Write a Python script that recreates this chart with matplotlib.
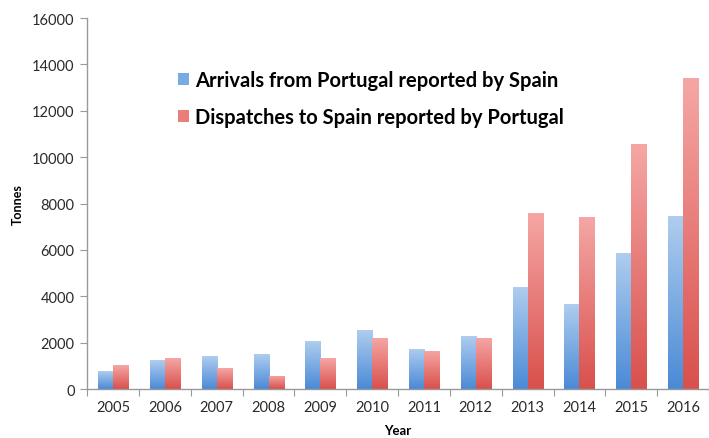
import matplotlib
matplotlib.use("Agg")
import matplotlib.pyplot as plt
import numpy as np
from matplotlib.colors import LinearSegmentedColormap

years = ["2005", "2006", "2007", "2008", "2009", "2010", "2011", "2012", "2013", "2014", "2015", "2016"]
arrivals = [760, 1250, 1410, 1495, 2055, 2530, 1740, 2285, 4385, 3650, 5850, 7460]
dispatches = [1035, 1320, 905, 575, 1335, 2200, 1640, 2200, 7605, 7400, 10570, 13410]
yticks = [0, 2000, 4000, 6000, 8000, 10000, 12000, 14000, 16000]

plt.rcParams['font.family'] = ['Lato', 'DejaVu Sans']

fig = plt.figure(figsize=(7.09, 4.39), dpi=100)
ax = fig.add_axes([0.123, 0.1116, 0.877, 0.845])

x = np.arange(len(years))
w = 0.29
blue_cmap = LinearSegmentedColormap.from_list("b", ["#4a8ad6", "#afcdef"])
red_cmap = LinearSegmentedColormap.from_list("r", ["#d9504c", "#f5a7a5"])

b1 = ax.bar(x - w / 2, arrivals, w, color="#7aaae3", label="Arrivals from Portugal reported by Spain")
b2 = ax.bar(x + w / 2, dispatches, w, color="#ea7c79", label="Dispatches to Spain reported by Portugal")

grad = np.linspace(0, 1, 256).reshape(-1, 1)
for bars, cmap in ((b1, blue_cmap), (b2, red_cmap)):
    for p in bars:
        x0, y0 = p.get_x(), p.get_y()
        ww, hh = p.get_width(), p.get_height()
        im = ax.imshow(grad, cmap=cmap, origin="lower", aspect="auto",
                       extent=[x0, x0 + ww, y0, y0 + hh], zorder=p.get_zorder())
        im.set_clip_path(p)

ax.set_xlim(-0.5, len(years) - 0.5)
ax.set_ylim(0, 16000)
ax.set_yticks(yticks)
ax.set_yticklabels([str(v) for v in yticks])
ax.set_xticks(np.arange(len(years) + 1) - 0.5)
ax.set_xticklabels([])
ax.set_xticks(x, minor=True)
ax.set_xticklabels(years, minor=True)
ax.tick_params(axis="x", which="minor", length=0, pad=8, labelsize=10.5, labelcolor="#2a2a2a")
ax.tick_params(axis="x", which="major", length=5, color="#999999", direction="out")
ax.tick_params(axis="y", length=5, color="#999999", labelsize=10.5, labelcolor="#2a2a2a", pad=4)

for s in ("top", "right"):
    ax.spines[s].set_visible(False)
for s in ("left", "bottom"):
    ax.spines[s].set_color("#999999")
    ax.spines[s].set_linewidth(1.0)

ax.set_ylabel("Tonnes", fontsize=9, fontweight="bold", labelpad=6)
ax.set_xlabel("Year", fontsize=9.5, fontweight="bold", labelpad=7)

leg = ax.legend(loc="upper left", bbox_to_anchor=(0.146, 0.86), frameon=False,
                prop={"size": 14.5, "weight": "bold"}, handlelength=0.55, handleheight=0.55,
                handletextpad=0.3, labelspacing=0.85, borderpad=0, borderaxespad=0)

fig.savefig("out.png", dpi=100)
